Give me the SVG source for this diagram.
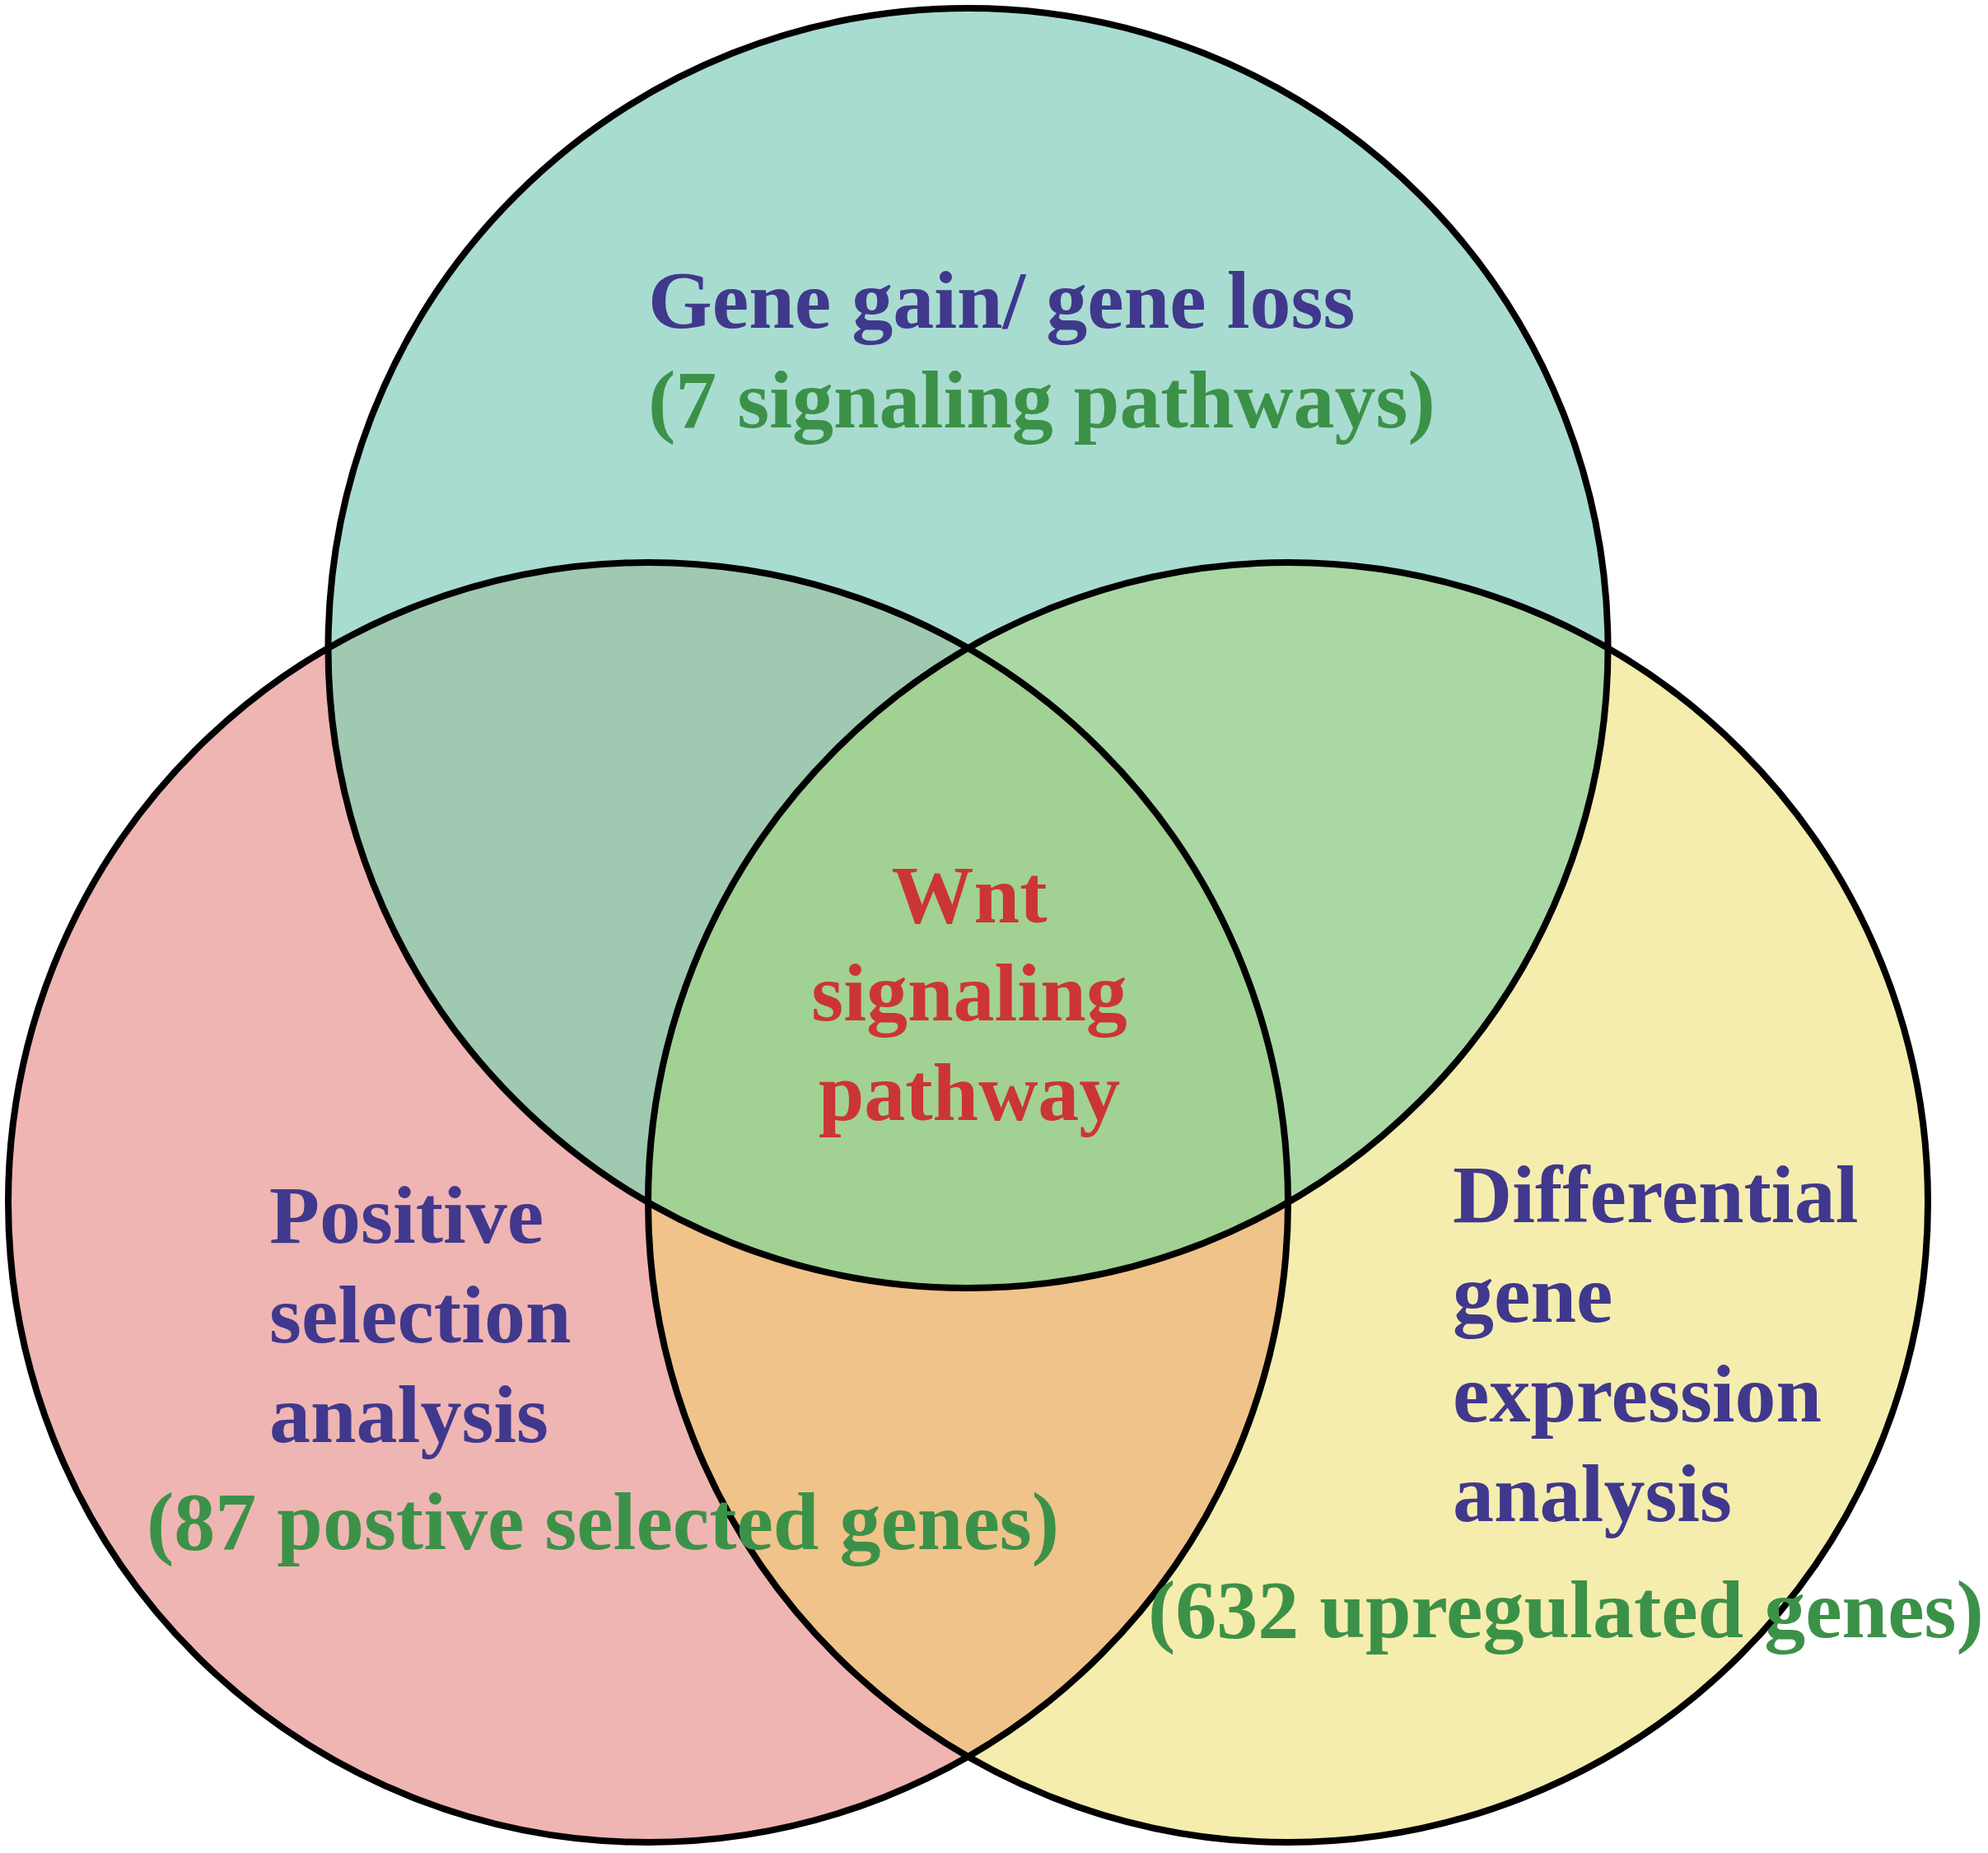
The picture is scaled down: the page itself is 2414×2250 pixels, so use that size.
<svg xmlns="http://www.w3.org/2000/svg" width="2414" height="2250" viewBox="0 0 2414 2250">
<style>
  .lbl { font-family: "Liberation Serif", "Times New Roman", serif; font-weight: bold; font-size: 100px; }
  .blue { fill: #40388C; }
  .green { fill: #3C9148; }
  .red { fill: #CC3535; }
  .outline { fill: none; stroke: #000; stroke-width: 8; }
</style>
<defs>
  <circle id="cTop" cx="1175.5" cy="787" r="777"/>
  <circle id="cBL" cx="787" cy="1460" r="777"/>
  <circle id="cBR" cx="1564" cy="1460" r="777"/>
  <clipPath id="clipTop"><use href="#cTop"/></clipPath>
  <clipPath id="clipBL"><use href="#cBL"/></clipPath>
  <clipPath id="clipBR"><use href="#cBR"/></clipPath>
</defs>
<rect width="2414" height="2250" fill="#ffffff"/>

<g id="node-gene-gain-loss-set"><use href="#cTop" fill="#A8DCD0"/></g>
<g id="node-positive-selection-set"><use href="#cBL" fill="#EFB5B3"/></g>
<g id="node-differential-expression-set"><use href="#cBR" fill="#F5EDAD"/></g>

<g id="overlaps">
  <use href="#cBL" fill="#A0C9B1" clip-path="url(#clipTop)"/>
  <use href="#cBR" fill="#A9D8A5" clip-path="url(#clipTop)"/>
  <use href="#cBR" fill="#F0C38A" clip-path="url(#clipBL)"/>
  <g clip-path="url(#clipBR)"><use href="#cTop" fill="#A1D193" clip-path="url(#clipBL)"/></g>
</g>

<g id="outlines">
  <use href="#cTop" class="outline"/>
  <use href="#cBL" class="outline"/>
  <use href="#cBR" class="outline"/>
</g>

<g id="label-gene-gain-loss">
  <text class="lbl blue" x="787" y="398">Gene gain/ gene loss</text>
  <text class="lbl green" x="787" y="519">(7 signaling pathways)</text>
</g>
<g id="label-wnt">
  <text class="lbl red" x="1177" y="1120" text-anchor="middle">Wnt</text>
  <text class="lbl red" x="1177" y="1239" text-anchor="middle">signaling</text>
  <text class="lbl red" x="1177" y="1360" text-anchor="middle">pathway</text>
</g>
<g id="label-positive-selection">
  <text class="lbl blue" x="327" y="1509">Positive</text>
  <text class="lbl blue" x="327" y="1630">selection</text>
  <text class="lbl blue" x="327" y="1751">analysis</text>
  <text class="lbl green" x="178" y="1881">(87 postive selected genes)</text>
</g>
<g id="label-differential-expression">
  <text class="lbl blue" x="1764" y="1484">Differential</text>
  <text class="lbl blue" x="1764" y="1605">gene</text>
  <text class="lbl blue" x="1764" y="1726">expression</text>
  <text class="lbl blue" x="1764" y="1847">analysis</text>
  <text class="lbl green" x="1394" y="1988">(632 upregulated genes)</text>
</g>
</svg>
